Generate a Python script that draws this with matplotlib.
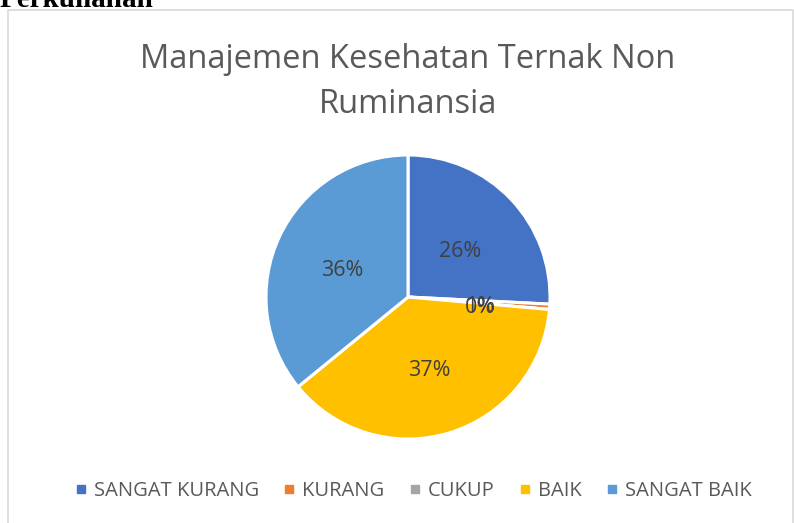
import numpy as np
import matplotlib.pyplot as plt
from matplotlib.patches import Rectangle
from matplotlib.lines import Line2D

# ============================= DATA =============================
categories = ["SANGAT KURANG", "KURANG", "CUKUP", "BAIK", "SANGAT BAIK"]
values = [25.8, 0.6, 0.0, 37.7, 35.9]
pct_labels = ["26%", "1%", "0%", "37%", "36%"]
colors = ["#4472C4", "#ED7D31", "#A5A5A5", "#FFC000", "#5B9BD5"]

title = "Manajemen Kesehatan Ternak Non\nRuminansia"

# ============================= FIGURE =============================
W, H = 794, 523
fig = plt.figure(figsize=(W / 100, H / 100), dpi=100)
plt.rcParams["font.family"] = ["Open Sans", "DejaVu Sans"]

# chart frame
fig.patches.append(Rectangle((8 / W, -0.05), (793 - 8) / W, (H - 10) / H + 0.05,
                             transform=fig.transFigure, fill=False,
                             edgecolor="#d9d9d9", linewidth=1.2))

# cut-off heading above the chart
fig.text(0, 1 - 7 / H, "Perkuliahan", family="Liberation Serif", weight="bold",
         fontsize=21, color="black", ha="left", va="baseline")

# pie axes: center (408, 297), radius 142 px
cx, cy, r = 408, 297, 142
ax = fig.add_axes([(cx - r) / W, (H - cy - r) / H, 2 * r / W, 2 * r / H])
wedges, _ = ax.pie(values, colors=colors, startangle=90, counterclock=False,
                   wedgeprops=dict(edgecolor="white", linewidth=2.2))
ax.set_xlim(-1, 1)
ax.set_ylim(-1, 1)
ax.set_aspect("equal")
ax.axis("off")

# percentage labels at middle of wedge
ang = 90
for v, lab in zip(values, pct_labels):
    span = v / sum(values) * 360
    mid = np.deg2rad(ang - span / 2)
    ax.text(0.51 * np.cos(mid), 0.51 * np.sin(mid) - 0.03, lab, ha="center", va="center",
            fontsize=15.5, color="#404040")
    ang -= span

fig.text(cx / W, 1 - 82 / H, title, ha="center", va="center", fontsize=23.5,
         color="#595959", linespacing=1.5)

handles = [Line2D([], [], marker="s", linestyle="none", markersize=6,
                  markerfacecolor=c, markeredgecolor=c) for c in colors]
fig.legend(handles, categories, loc="center", bbox_to_anchor=(413 / W, 1 - 491 / H),
           ncol=5, frameon=False, fontsize=14.5, labelcolor="#595959",
           handlelength=0.6, handletextpad=0.35, columnspacing=1.2)

fig.savefig("out.png", dpi=100)
